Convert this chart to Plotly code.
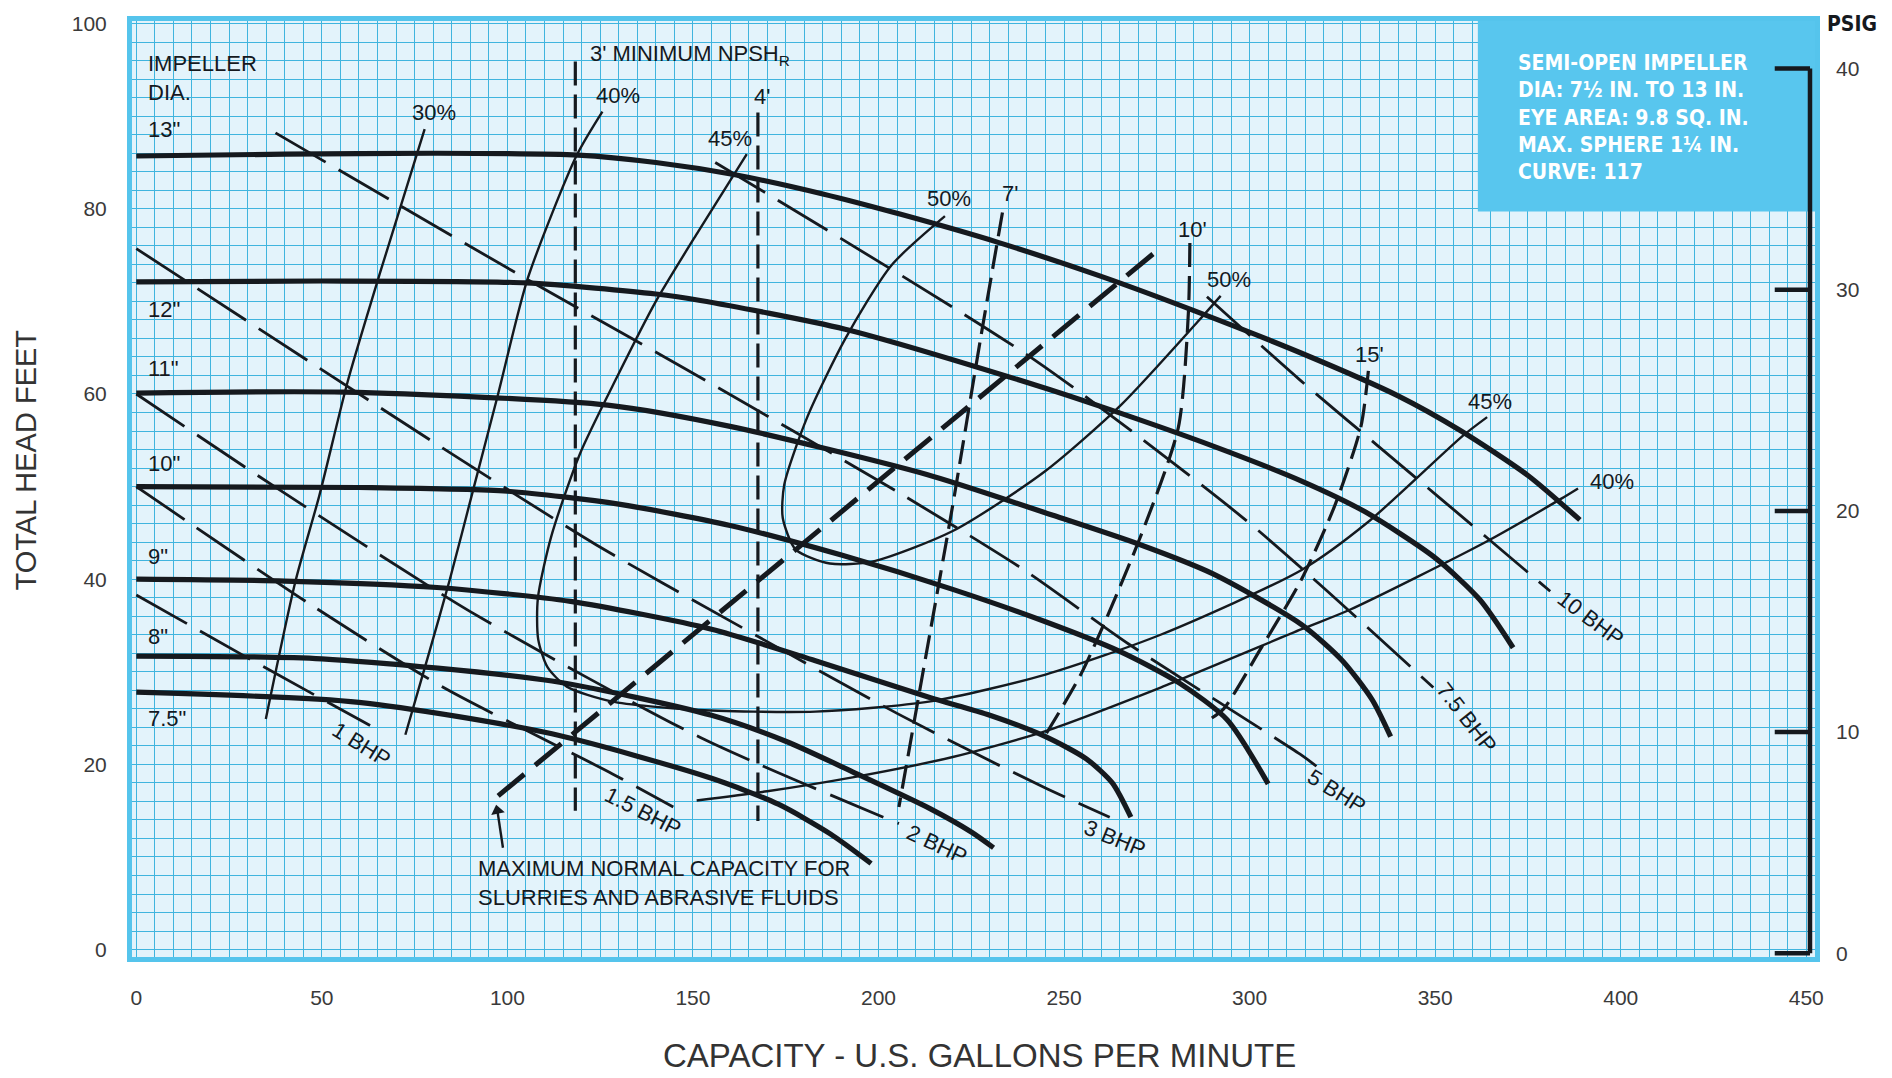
import plotly.graph_objects as go

INK = "#15191e"
GRID = "#3fb4de"
PAPER_BLUE = "#e3f3fb"
BOX_BLUE = "#58c6ee"
FONT = "Liberation Sans, Arial, sans-serif"
NARROW = "Liberation Sans Narrow, Arial Narrow, DejaVu Sans Condensed, Liberation Sans, sans-serif"

# ---- Head-capacity curves by impeller diameter (US GPM, feet) ----
q_13 = [0, 40, 80, 119, 140, 161, 185, 206, 232, 260, 285, 314, 340, 357, 375, 389]
h_13 = [85.7, 85.9, 86.0, 85.8, 85.0, 83.7, 81.6, 79.4, 76.4, 72.7, 69.0, 64.4, 59.8, 56.0, 51.2, 46.4]
q_12 = [0, 50, 105, 140, 152, 191, 242, 261, 290, 314, 331, 350, 362, 371]
h_12 = [72.1, 72.2, 72.0, 70.8, 70.1, 67.0, 61.0, 58.5, 54.4, 50.6, 47.3, 42.3, 37.8, 32.6]
q_11 = [0, 56, 127, 160, 213, 247, 270, 290, 314, 325, 333, 338]
h_11 = [60.1, 60.2, 58.8, 56.5, 51.3, 46.9, 43.8, 40.6, 35.1, 31.2, 27.0, 23.0]
q_10 = [0, 60, 100, 130, 160, 190, 220, 245, 265, 281, 294, 305]
h_10 = [50.0, 49.9, 49.5, 48.1, 45.8, 42.6, 38.9, 35.4, 32.2, 28.8, 24.8, 17.9]
q_9 = [0, 40, 81, 117, 155, 183, 214, 230, 245, 256, 263, 268]
h_9 = [40.0, 39.8, 39.1, 37.6, 34.6, 31.2, 27.2, 25.3, 23.0, 20.6, 18.0, 14.3]
q_8 = [0, 50, 112, 155, 175, 193, 214, 225, 231]
h_8 = [31.7, 31.4, 29.0, 25.3, 22.5, 19.2, 15.2, 12.7, 11.0]
q_75 = [0, 60, 112, 155, 173, 187, 198]
h_75 = [27.8, 26.7, 23.3, 18.5, 15.7, 12.5, 9.3]

impeller_names = ['13"', '12"', '11"', '10"', '9"', '8"', '7.5"']
impeller_label_head = [88.6, 69.1, 62.8, 52.5, 42.4, 33.8, 25.0]

# ---- Efficiency contours ----
eff30_q = [77.7, 66.0, 57.0, 49.3, 42.9, 34.9]
eff30_h = [88.6, 73.5, 61.4, 49.0, 39.8, 24.9]
eff40a_q = [125.6, 118.7, 105.5, 97.5, 91.0, 84.5, 78.5, 72.5]
eff40a_h = [90.5, 85.8, 72.5, 60.0, 50.0, 40.0, 31.5, 23.2]
eff40b_q = [151, 170, 193, 220, 245, 276, 314, 327, 364, 384, 388.5]
eff40b_h = [16.1, 17.1, 18.6, 20.8, 23.6, 28.3, 34.6, 36.7, 44.1, 48.7, 49.8]
eff45_q = [164.5, 151.5, 140.0, 129.5, 119.5, 111.8, 108.2, 108.3, 110.8, 116, 128, 150, 183,
           214, 245, 276, 314, 332, 357.5, 364]
eff45_h = [85.9, 77.6, 70.0, 61.8, 53.5, 44.6, 37.9, 33.5, 30.5, 28.4, 26.8, 25.9, 25.7,
           26.8, 29.7, 34.0, 41.0, 46.2, 55.5, 57.5]
eff50_q = [217.9, 203.5, 191.1, 180.8, 174.6, 174.2, 177.7, 186.9, 198.3, 220, 244.7, 265.3, 286, 292.2]
eff50_h = [79.2, 73.9, 66.0, 57.5, 50.2, 46.6, 43.2, 41.7, 41.9, 45.2, 51.6, 58.8, 67.8, 70.6]

# ---- NPSH required lines ----
npsh3_q, npsh3_h = [118.3, 118.3], [95.9, 15.0]
npsh4_q, npsh4_h = [167.5, 167.5], [90.4, 13.9]
npsh7_q = [233.4, 227.5, 220.0, 212.0, 205.5]
npsh7_h = [79.6, 66.0, 48.0, 30.0, 15.4]
npsh10_q = [283.9, 283.5, 280.8, 270.5, 255.0, 245.0]
npsh10_h = [76.3, 68.8, 56.4, 44.5, 30.1, 23.2]
npsh15_q = [332, 330, 323, 314, 303, 293, 289]
npsh15_h = [62.5, 56.5, 48.0, 40.0, 32.5, 26.0, 24.8]

# ---- Maximum normal capacity for slurries ----
maxcap_q = [97.5, 275.7]
maxcap_h = [16.6, 75.7]
maxcap_arrow_q = [98.8, 97.3]
maxcap_arrow_h = [11.0, 15.0]

# ---- Brake horsepower lines ----
bhp1_q, bhp1_h = [0, 30, 63], [38.3, 31.5, 24.2]
bhp15_q, bhp15_h = [0, 46.8, 82.8, 128.2, 144.7], [50.0, 37.3, 28.3, 19.0, 15.4]
bhp2_q, bhp2_h = [0, 38, 90, 152, 205.5], [60.0, 49.8, 36.5, 22.9, 13.6]
bhp3_q, bhp3_h = [0, 82.8, 124, 160, 205.5, 244.7, 262.3], [75.7, 54.1, 43.7, 35.5, 25.4, 17.5, 14.3]
bhp5_q, bhp5_h = [37.5, 103.5, 148, 206.5, 239.6, 267.4, 313.6, 318], [88.2, 72.8, 62.7, 49.1, 40.9, 33.0, 21.1, 19.8]
bhp75_q, bhp75_h = [156, 242.7, 298.3, 319, 349.5], [85.0, 63.5, 46.6, 39.4, 28.3]
bhp10_q, bhp10_h = [288.5, 313.6, 339.6, 363.9, 381], [70.5, 61.5, 52.7, 44.5, 38.7]

bhp_names = ["1 BHP", "1.5 BHP", "2 BHP", "3 BHP", "5 BHP", "7.5 BHP", "10 BHP"]
bhp_label_q = [60.7, 136.5, 215.8, 263.8, 323.5, 358.5, 391.9]
bhp_label_h = [22.2, 14.9, 11.3, 12.0, 17.1, 25.1, 35.8]
bhp_label_angle = [32, 27, 25, 22, 32, 52, 37]

eff_names = ["30%", "40%", "45%", "50%", "50%", "45%", "40%"]
eff_label_q = [80.2, 129.9, 160.0, 219.1, 294.4, 364.8, 397.7]
eff_label_h = [90.4, 92.2, 87.6, 81.1, 72.4, 59.2, 50.5]

npsh_names = ["4'", "7'", "10'", "15'"]
npsh_label_q = [168.7, 235.4, 284.7, 332.3]
npsh_label_h = [92.1, 81.6, 77.8, 64.3]

psig_ticks = [0, 10, 20, 30, 40]
q_ticks = list(range(0, 451, 50))
h_ticks = list(range(0, 101, 20))

fig = go.Figure()


def add_line(q, h, width, dash="solid", smooth=True):
    fig.add_trace(go.Scatter(
        x=q, y=h, mode="lines", showlegend=False, hoverinfo="skip",
        line=dict(color=INK, width=width, dash=dash,
                  shape="spline" if smooth and len(q) > 2 else "linear",
                  smoothing=0.7)))


# BHP lines
for q, h in [(bhp1_q, bhp1_h), (bhp15_q, bhp15_h), (bhp2_q, bhp2_h), (bhp3_q, bhp3_h),
             (bhp5_q, bhp5_h), (bhp75_q, bhp75_h), (bhp10_q, bhp10_h)]:
    add_line(q, h, 2.8, dash="58px,15px")

# efficiency contours
for q, h in [(eff30_q, eff30_h), (eff40a_q, eff40a_h), (eff40b_q, eff40b_h),
             (eff45_q, eff45_h), (eff50_q, eff50_h)]:
    add_line(q, h, 2.4)

# NPSH lines
for q, h in [(npsh3_q, npsh3_h), (npsh4_q, npsh4_h), (npsh7_q, npsh7_h),
             (npsh10_q, npsh10_h), (npsh15_q, npsh15_h)]:
    add_line(q, h, 3.2, dash="24px,9px")

# slurry capacity limit
add_line(maxcap_q, maxcap_h, 5, dash="34px,14px", smooth=False)

# pointer from the note up to the slurry limit line
fig.add_trace(go.Scatter(
    x=maxcap_arrow_q, y=maxcap_arrow_h, mode="lines", showlegend=False, hoverinfo="skip",
    line=dict(color=INK, width=2.4)))
fig.add_trace(go.Scatter(
    x=maxcap_arrow_q[-1:], y=maxcap_arrow_h[-1:], mode="markers", showlegend=False,
    hoverinfo="skip", marker=dict(symbol="triangle-up", size=12, color=INK, angle=-12)))

# impeller head curves
for q, h in [(q_13, h_13), (q_12, h_12), (q_11, h_11), (q_10, h_10),
             (q_9, h_9), (q_8, h_8), (q_75, h_75)]:
    add_line(q, h, 5.2)

# invisible trace to carry the pressure axis
fig.add_trace(go.Scatter(x=[0], y=[0], yaxis="y2", mode="markers",
                         marker=dict(opacity=0), showlegend=False, hoverinfo="skip"))

ann = []


def label(x, y, text, size=22, angle=0, xanchor="center", align="center", **kw):
    ann.append(dict(x=x, y=y, text=text, showarrow=False, textangle=angle,
                    xanchor=xanchor, yanchor="middle", align=align,
                    font=dict(family=FONT, size=size, color=INK), **kw))


label(2.5, 94.1, "IMPELLER<br>DIA.", xanchor="left", align="left")
for name, hh in zip(impeller_names, impeller_label_head):
    label(2.5, hh, name, xanchor="left")
for name, qq, hh, ang in zip(bhp_names, bhp_label_q, bhp_label_h, bhp_label_angle):
    label(qq, hh, name, angle=ang)
for name, qq, hh in zip(eff_names, eff_label_q, eff_label_h):
    label(qq, hh, name)
for name, qq, hh in zip(npsh_names, npsh_label_q, npsh_label_h):
    label(qq, hh, name)
label(121.8, 96.6, "3' MINIMUM NPSH<sub>R</sub>", xanchor="left")
label(91.6, 7.2, "MAXIMUM NORMAL CAPACITY FOR<br>SLURRIES AND ABRASIVE FLUIDS",
      xanchor="left", align="left")

# info block text
ann.append(dict(xref="paper", yref="paper", x=0.8223, y=0.8967, xanchor="left", yanchor="middle",
                align="left", showarrow=False,
                text="SEMI-OPEN IMPELLER<br>DIA: 7½ IN. TO 13 IN.<br>EYE AREA: 9.8 SQ. IN.<br>"
                     "MAX. SPHERE 1¼ IN.<br>CURVE: 117",
                font=dict(family=NARROW, size=21, color="white", weight="bold")))

# axis titles
ann.append(dict(xref="paper", yref="paper", x=0.5036, y=-0.1054, xanchor="center", yanchor="middle",
                showarrow=False, text="CAPACITY - U.S. GALLONS PER MINUTE",
                font=dict(family=FONT, size=33, color="#333333")))
ann.append(dict(xref="paper", yref="paper", x=-0.0627, y=0.531, xanchor="center", yanchor="middle",
                showarrow=False, text="TOTAL HEAD FEET", textangle=-90,
                font=dict(family=FONT, size=29, color="#333333")))
ann.append(dict(xref="paper", yref="paper", x=1.022, y=0.997, xanchor="center", yanchor="middle",
                showarrow=False, text="<b>PSIG</b>",
                font=dict(family=NARROW, size=21, color=INK)))

shapes = [dict(type="rect", xref="x", yref="y", x0=361.5, x1=452.35, y0=79.7, y1=100.28,
               fillcolor=BOX_BLUE, line=dict(width=0), layer="above")]
# pressure scale spine with inward ticks
shapes.append(dict(type="line", xref="x", yref="y2", x0=451.0, x1=451.0,
                   y0=psig_ticks[0], y1=psig_ticks[-1], line=dict(color=INK, width=4.5),
                   layer="above"))
for p in psig_ticks:
    shapes.append(dict(type="line", xref="x", yref="y2", x0=441.5, x1=451.0, y0=p, y1=p,
                       line=dict(color=INK, width=4.5), layer="above"))

fig.update_layout(
    width=1892, height=1078,
    margin=dict(l=132, r=77, t=18, b=121),
    paper_bgcolor="white", plot_bgcolor=PAPER_BLUE,
    annotations=ann, shapes=shapes, showlegend=False,
    xaxis=dict(range=[-1.16, 452.35], tickvals=q_ticks, ticks="", ticklabelstandoff=18,
               tickfont=dict(family=FONT, size=21, color="#3a3a3a"),
               showgrid=True, gridcolor=GRID, gridwidth=1.3,
               minor=dict(dtick=5, tick0=0, showgrid=True, gridcolor=GRID, gridwidth=1.3),
               showline=True, linecolor="#55c4ec", linewidth=5, mirror=True, zeroline=False),
    yaxis=dict(range=[-0.8, 100.28], tickvals=h_ticks, ticks="", ticklabelstandoff=16,
               tickfont=dict(family=FONT, size=21, color="#3a3a3a"),
               showgrid=True, gridcolor=GRID, gridwidth=1.3,
               minor=dict(dtick=2, tick0=0, showgrid=True, gridcolor=GRID, gridwidth=1.3),
               showline=True, linecolor="#55c4ec", linewidth=5, mirror=True, zeroline=False),
    yaxis2=dict(overlaying="y", side="right", range=[-0.17, 42.15], tickvals=psig_ticks,
                ticks="", ticklabelstandoff=20, showgrid=False, zeroline=False, showline=False,
                tickfont=dict(family=FONT, size=21, color="#3a3a3a")),
)

fig.write_html("out.html")
